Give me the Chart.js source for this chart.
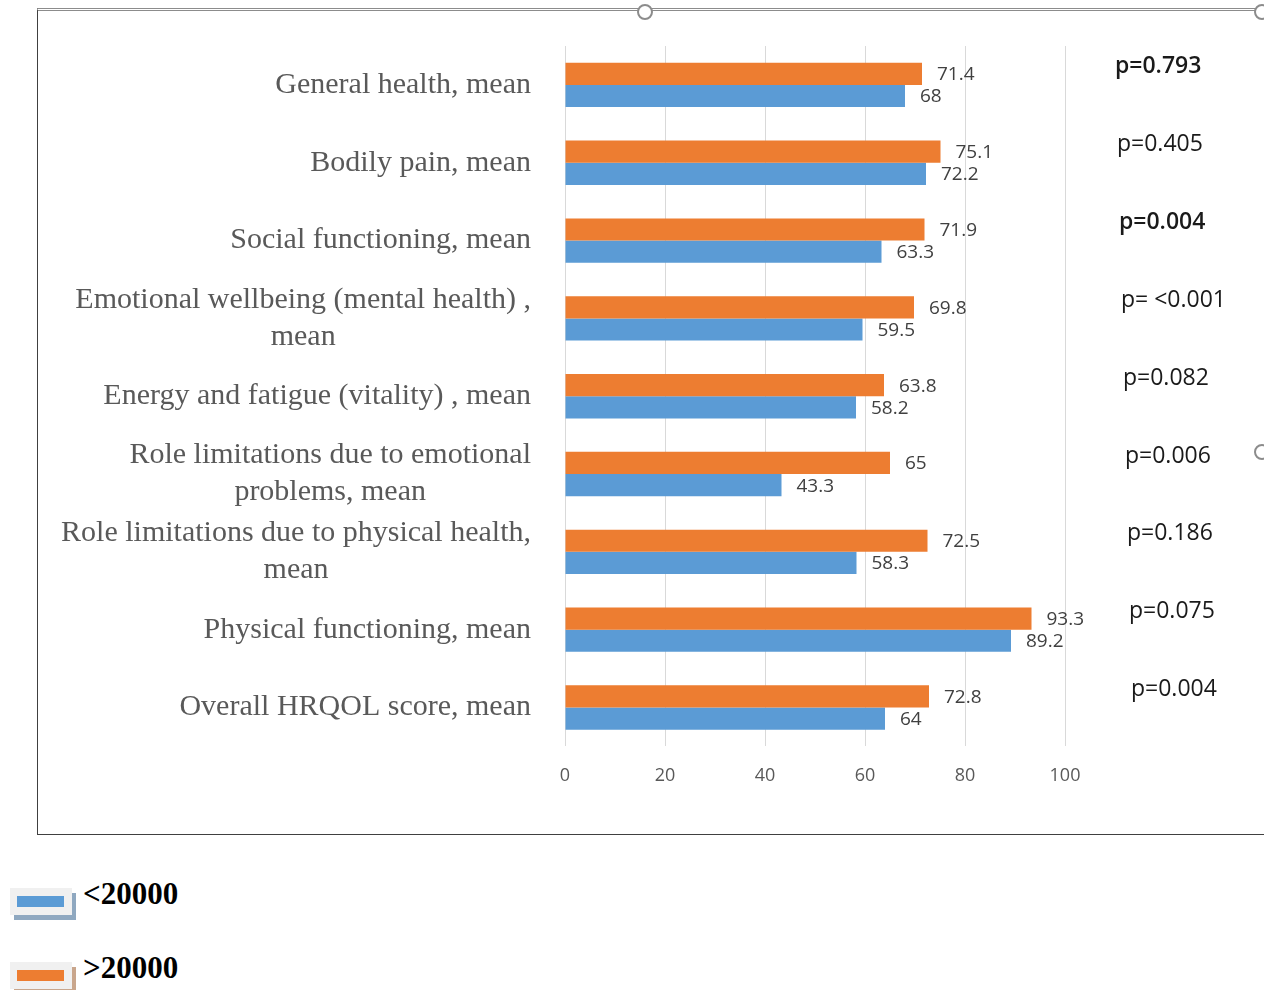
<!DOCTYPE html>
<html>
<head>
<meta charset="utf-8">
<script src="https://cdn.jsdelivr.net/npm/chart.js"></script>
<style>
  body { margin:0; background:#fff; width:1264px; height:990px; position:relative; overflow:hidden; }
  #frame { position:absolute; left:37px; top:8px; width:1300px; height:823px;
           border-left:1px solid #404040; border-bottom:1px solid #404040; border-top:3px double #8c8c8c; }
  #wrap { position:absolute; left:0; top:0; width:1264px; height:835px; }
  .handle { position:absolute; width:12px; height:12px; border-radius:50%; border:2px solid #8c8c8c; background:#fff; }
  .leg { position:absolute; left:10px; font-family:"Liberation Serif", serif; font-weight:bold; font-size:31px; color:#000; }
  .leg .box { position:absolute; left:0; top:0; width:62px; height:27px; background:#f0f0f0; }
  .leg .shadow { position:absolute; left:4px; top:5px; width:62px; height:27px; }
  .leg .bar { position:absolute; left:7px; top:8px; width:47px; height:11px; }
  .leg span { position:absolute; left:73px; top:-12px; white-space:nowrap; }
</style>
</head>
<body>
<div id="frame"></div>
<div id="wrap"><canvas id="hrqol-chart"></canvas></div>
<div class="handle" style="left:637px;top:4px;"></div>
<div class="handle" style="left:1254px;top:4px;"></div>
<div class="handle" style="left:1254px;top:444px;"></div>

<div class="leg" style="top:888px;">
  <div class="shadow" style="background:#8fa8c0;"></div>
  <div class="box"></div>
  <div class="bar" style="background:#5b9bd5;"></div>
  <span>&lt;20000</span>
</div>
<div class="leg" style="top:962px;">
  <div class="shadow" style="background:#c9a68c;"></div>
  <div class="box"></div>
  <div class="bar" style="background:#ed7d31;"></div>
  <span>&gt;20000</span>
</div>

<script>
// ===========================
// HRQOL 所得別 比較グラフ
// ===========================

var categories = [
  'General health, mean',
  'Bodily pain, mean',
  'Social functioning, mean',
  ['Emotional wellbeing (mental health) ,', 'mean'],
  'Energy and fatigue (vitality) , mean',
  ['Role limitations due to emotional', 'problems, mean'],
  ['Role limitations due to physical health,', 'mean'],
  'Physical functioning, mean',
  'Overall HRQOL score, mean'
];
var above20000 = [71.4, 75.1, 71.9, 69.8, 63.8, 65, 72.5, 93.3, 72.8];
var below20000 = [68, 72.2, 63.3, 59.5, 58.2, 43.3, 58.3, 89.2, 64];
var pValues = ['p=0.793', 'p=0.405', 'p=0.004', 'p= <0.001', 'p=0.082', 'p=0.006', 'p=0.186', 'p=0.075', 'p=0.004'];
var xTicks = [0, 20, 40, 60, 80, 100];

var boldP = [0, 2];

// 値ラベル・カテゴリ名・p値を描く
var labelPlugin = {
  id: 'hrqolLabels',
  afterDatasetsDraw: function(chart) {
    var ctx = chart.ctx;
    var yScale = chart.scales.y;
    var area = chart.chartArea;
    ctx.save();

    // バーの値
    ctx.font = '19px "Open Sans"';
    ctx.fillStyle = '#404040';
    ctx.textAlign = 'left';
    ctx.textBaseline = 'middle';
    chart.data.datasets.forEach(function(ds, di) {
      chart.getDatasetMeta(di).data.forEach(function(bar, i) {
        ctx.fillText(String(ds.data[i]), bar.x + 15, bar.y + 1);
      });
    });

    // カテゴリ名（複数行は中央揃え、ブロックは右揃え）
    ctx.font = '30px "Liberation Serif"';
    ctx.fillStyle = '#595959';
    ctx.textAlign = 'center';
    var rightX = area.left - 34;
    var lineH = 37;
    categories.forEach(function(label, i) {
      var lines = Array.isArray(label) ? label : [label];
      var maxW = 0;
      lines.forEach(function(l) { maxW = Math.max(maxW, ctx.measureText(l).width); });
      var cy = yScale.getPixelForValue(i);
      var y0 = cy - (lines.length - 1) * lineH / 2;
      lines.forEach(function(l, k) {
        ctx.fillText(l, rightX - maxW / 2, y0 + k * lineH);
      });
    });

    // p値
    ctx.textAlign = 'left';
    ctx.fillStyle = '#1a1a1a';
    pValues.forEach(function(p, i) {
      ctx.font = (boldP.indexOf(i) >= 0 ? '600 ' : '') + '23px "Open Sans"';
      ctx.fillText(p, area.right + 50 + i * 2, yScale.getPixelForValue(i) - 18);
    });

    ctx.restore();
  }
};

var ctx = document.getElementById('hrqol-chart').getContext('2d');
var hrqolChart = new Chart(ctx, {
  type: 'bar',
  data: {
    labels: categories,
    datasets: [
      {
        label: '>20000',
        data: above20000,
        backgroundColor: '#ed7d31',
        categoryPercentage: 0.57,
        barPercentage: 1.0
      },
      {
        label: '<20000',
        data: below20000,
        backgroundColor: '#5b9bd5',
        categoryPercentage: 0.57,
        barPercentage: 1.0
      }
    ]
  },
  options: {
    indexAxis: 'y',
    responsive: true,
    maintainAspectRatio: false,
    animation: false,
    layout: { padding: { left: 565, right: 199, top: 46, bottom: 29 } },
    plugins: {
      legend: { display: false },
      tooltip: { enabled: false }
    },
    scales: {
      x: {
        min: 0,
        max: 100,
        afterBuildTicks: function(scale) {
          scale.ticks = xTicks.map(function(v) { return { value: v }; });
        },
        grid: { color: '#d9d9d9', lineWidth: 1, drawTicks: false },
        border: { display: false },
        ticks: { color: '#595959', font: { family: 'Open Sans', size: 18 }, padding: 19 }
      },
      y: {
        display: false
      }
    }
  },
  plugins: [labelPlugin]
});
</script>
</body>
</html>
